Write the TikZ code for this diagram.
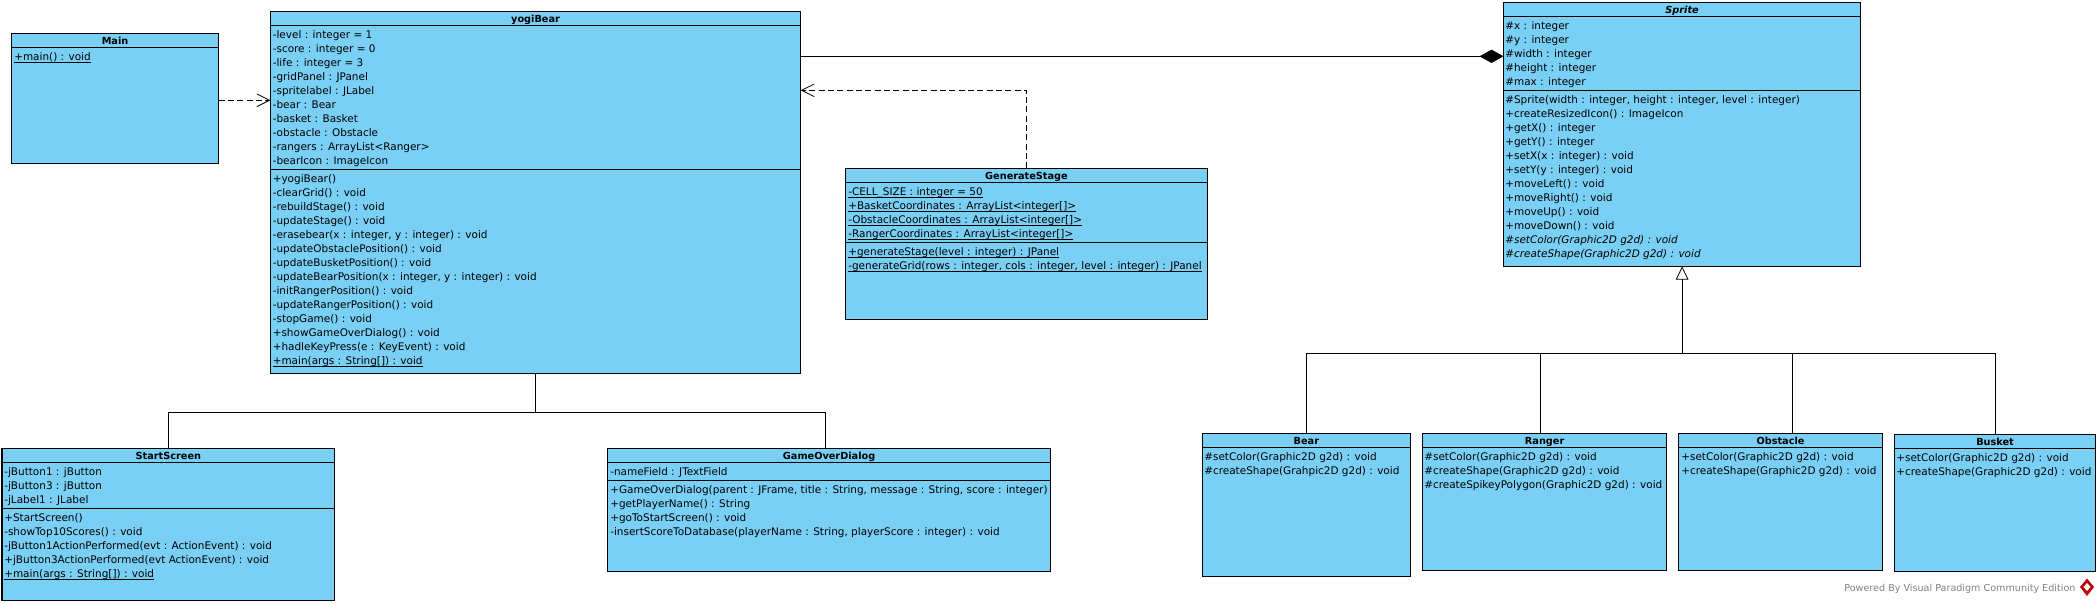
\documentclass[tikz,border=0pt]{standalone}
\usepackage{fontspec}
\setmainfont{DejaVu Sans}
\usetikzlibrary{arrows.meta}

\definecolor{classblue}{RGB}{122,207,245}
\tikzset{
  classbox/.style={draw=black,fill=classblue,line width=0.9pt,anchor=north west,inner sep=0pt,outer sep=0pt},
  rowtext/.style={anchor=base west,inner sep=0pt,font=\fontsize{7.85}{10}\selectfont},
  titletext/.style={anchor=base,inner sep=0pt,font=\fontsize{7.3}{10}\selectfont\bfseries},
  boxline/.style={line width=0.9pt},
  assocline/.style={line width=0.75pt},
  depline/.style={line width=0.8pt,dash pattern=on 4.5pt off 2.5pt,-{Straight Barb[length=9.5pt,width=9.5pt,line width=0.6pt]}},
  genline/.style={line width=0.75pt,-{Triangle[open,fill=white,length=10pt,width=9.5pt,line width=0.6pt]}},
  compline/.style={line width=0.9pt,-{Diamond[length=18pt,width=10pt,fill=black]}},
}
\newcommand{\classnode}[5]{\node [classbox,minimum width={(#4-#2)*0.75pt},minimum height={(#5-#3)*0.75pt}] (#1) at (#2,#3) {};}
\newcommand{\staticrow}[1]{\underline{\smash{#1}}}

\begin{document}
\begin{tikzpicture}[x=0.75pt,y=0.75pt,yscale=-1,xscale=1]
\useasboundingbox (0,0) rectangle (2099,604);

% Class Boxes
\classnode{main}{11.5}{33.3}{218.6}{163.3}
\classnode{yogi}{270.4}{11.3}{800.7}{373.3}
\classnode{stage}{845.8}{168.3}{1207.2}{319.3}
\classnode{sprite}{1503.5}{2.7}{1860.7}{266.3}
\classnode{start}{2}{448.3}{334.7}{600.7}
\classnode{over}{607.7}{448.3}{1050.5}{571.3}
\classnode{bear}{1202.3}{433.3}{1410.4}{576.3}
\classnode{ranger}{1422.7}{433.3}{1666.5}{570.3}
\classnode{obstacle}{1678.8}{433.3}{1882.2}{570.3}
\classnode{busket}{1894.5}{434.7}{2095.6}{571.3}

% Compartment Lines
\draw [boxline] (main.west |- 0,47.3) -- (main.east |- 0,47.3);
\draw [boxline] (yogi.west |- 0,25.3) -- (yogi.east |- 0,25.3);
\draw [boxline] (yogi.west |- 0,169.3) -- (yogi.east |- 0,169.3);
\draw [boxline] (stage.west |- 0,182.3) -- (stage.east |- 0,182.3);
\draw [boxline] (stage.west |- 0,242.3) -- (stage.east |- 0,242.3);
\draw [boxline] (sprite.west |- 0,16.3) -- (sprite.east |- 0,16.3);
\draw [boxline] (sprite.west |- 0,90.3) -- (sprite.east |- 0,90.3);
\draw [boxline] (start.west |- 0,462.3) -- (start.east |- 0,462.3);
\draw [boxline] (start.west |- 0,508.3) -- (start.east |- 0,508.3);
\draw [boxline] (over.west |- 0,462.3) -- (over.east |- 0,462.3);
\draw [boxline] (over.west |- 0,480.3) -- (over.east |- 0,480.3);
\draw [boxline] (bear.west |- 0,447.3) -- (bear.east |- 0,447.3);
\draw [boxline] (ranger.west |- 0,447.3) -- (ranger.east |- 0,447.3);
\draw [boxline] (obstacle.west |- 0,447.3) -- (obstacle.east |- 0,447.3);
\draw [boxline] (busket.west |- 0,448.3) -- (busket.east |- 0,448.3);

% Connectors
\draw [depline] (main.east |- 0,100.3) -- (yogi.west |- 0,100.3);
\draw [depline] (stage.north) |- (yogi.east |- 0,90.3);
\draw [compline] (yogi.east |- 0,56.3) -- (sprite.west |- 0,56.3);
\coordinate (yogiBus) at (yogi.south |- 0,412.3);
\draw [assocline] (yogi.south) -- (yogiBus);
\draw [assocline] (start.north) |- (yogiBus);
\draw [assocline] (over.north -| 825.3,0) |- (yogiBus);
\coordinate (spriteBus) at (sprite.south |- 0,353.3);
\draw [genline] (spriteBus) -- (sprite.south);
\draw [assocline] (bear.north) |- (spriteBus);
\draw [assocline] (ranger.north -| 1540.5,0) |- (spriteBus);
\draw [assocline] (obstacle.north -| 1792.5,0) |- (spriteBus);
\draw [assocline] (busket.north) |- (spriteBus);

% Main
\draw (main.north |- 0,44.3) node [titletext] (mainT) {Main};
\draw (14,60.3) node [rowtext] (mainM1) {\staticrow{+main() : void}};

% yogiBear
\draw (yogi.north |- 0,22.3) node [titletext] (yogiT) {yogiBear};
\draw (272.5,38.3) node [rowtext] (yogiA1) {-level : integer = 1};
\draw (272.5,52.3) node [rowtext] (yogiA2) {-score : integer = 0};
\draw (272.5,66.3) node [rowtext] (yogiA3) {-life : integer = 3};
\draw (272.5,80.3) node [rowtext] (yogiA4) {-gridPanel : JPanel};
\draw (272.5,94.3) node [rowtext] (yogiA5) {-spritelabel : JLabel};
\draw (272.5,108.3) node [rowtext] (yogiA6) {-bear : Bear};
\draw (272.5,122.3) node [rowtext] (yogiA7) {-basket : Basket};
\draw (272.5,136.3) node [rowtext] (yogiA8) {-obstacle : Obstacle};
\draw (272.5,150.3) node [rowtext] (yogiA9) {-rangers : ArrayList<Ranger>};
\draw (272.5,164.3) node [rowtext] (yogiA10) {-bearIcon : ImageIcon};
\draw (272.5,182.3) node [rowtext] (yogiM1) {+yogiBear()};
\draw (272.5,196.3) node [rowtext] (yogiM2) {-clearGrid() : void};
\draw (272.5,210.3) node [rowtext] (yogiM3) {-rebuildStage() : void};
\draw (272.5,224.3) node [rowtext] (yogiM4) {-updateStage() : void};
\draw (272.5,238.3) node [rowtext] (yogiM5) {-erasebear(x : integer, y : integer) : void};
\draw (272.5,252.3) node [rowtext] (yogiM6) {-updateObstaclePosition() : void};
\draw (272.5,266.3) node [rowtext] (yogiM7) {-updateBusketPosition() : void};
\draw (272.5,280.3) node [rowtext] (yogiM8) {-updateBearPosition(x : integer, y : integer) : void};
\draw (272.5,294.3) node [rowtext] (yogiM9) {-initRangerPosition() : void};
\draw (272.5,308.3) node [rowtext] (yogiM10) {-updateRangerPosition() : void};
\draw (272.5,322.3) node [rowtext] (yogiM11) {-stopGame() : void};
\draw (272.5,336.3) node [rowtext] (yogiM12) {+showGameOverDialog() : void};
\draw (272.5,350.3) node [rowtext] (yogiM13) {+hadleKeyPress(e : KeyEvent) : void};
\draw (272.5,364.3) node [rowtext] (yogiM14) {\staticrow{+main(args : String[]) : void}};

% GenerateStage
\draw (stage.north |- 0,179.3) node [titletext] (stageT) {GenerateStage};
\draw (848,195.3) node [rowtext] (stageA1) {\staticrow{-CELL\_SIZE : integer = 50}};
\draw (848,209.3) node [rowtext] (stageA2) {\staticrow{+BasketCoordinates : ArrayList<integer[]>}};
\draw (848,223.3) node [rowtext] (stageA3) {\staticrow{-ObstacleCoordinates : ArrayList<integer[]>}};
\draw (848,237.3) node [rowtext] (stageA4) {\staticrow{-RangerCoordinates : ArrayList<integer[]>}};
\draw (848,255.3) node [rowtext] (stageM1) {\staticrow{+generateStage(level : integer) : JPanel}};
\draw (848,269.3) node [rowtext] (stageM2) {\staticrow{-generateGrid(rows : integer, cols : integer, level : integer) : JPanel}};

% Sprite
\draw (sprite.north |- 0,13.3) node [titletext] (spriteT) {\itshape Sprite};
\draw (1505,29.3) node [rowtext] (spriteA1) {\#x : integer};
\draw (1505,43.3) node [rowtext] (spriteA2) {\#y : integer};
\draw (1505,57.3) node [rowtext] (spriteA3) {\#width : integer};
\draw (1505,71.3) node [rowtext] (spriteA4) {\#height : integer};
\draw (1505,85.3) node [rowtext] (spriteA5) {\#max : integer};
\draw (1505,103.3) node [rowtext] (spriteM1) {\#Sprite(width : integer, height : integer, level : integer)};
\draw (1505,117.3) node [rowtext] (spriteM2) {+createResizedIcon() : ImageIcon};
\draw (1505,131.3) node [rowtext] (spriteM3) {+getX() : integer};
\draw (1505,145.3) node [rowtext] (spriteM4) {+getY() : integer};
\draw (1505,159.3) node [rowtext] (spriteM5) {+setX(x : integer) : void};
\draw (1505,173.3) node [rowtext] (spriteM6) {+setY(y : integer) : void};
\draw (1505,187.3) node [rowtext] (spriteM7) {+moveLeft() : void};
\draw (1505,201.3) node [rowtext] (spriteM8) {+moveRight() : void};
\draw (1505,215.3) node [rowtext] (spriteM9) {+moveUp() : void};
\draw (1505,229.3) node [rowtext] (spriteM10) {+moveDown() : void};
\draw (1505,243.3) node [rowtext] (spriteM11) {\itshape \#setColor(Graphic2D g2d) : void};
\draw (1505,257.3) node [rowtext] (spriteM12) {\itshape \#createShape(Graphic2D g2d) : void};

% StartScreen
\draw (start.north |- 0,459.3) node [titletext] (startT) {StartScreen};
\draw (4,475.3) node [rowtext] (startA1) {-jButton1 : jButton};
\draw (4,489.3) node [rowtext] (startA2) {-jButton3 : jButton};
\draw (4,503.3) node [rowtext] (startA3) {-jLabel1 : JLabel};
\draw (4,521.3) node [rowtext] (startM1) {+StartScreen()};
\draw (4,535.3) node [rowtext] (startM2) {-showTop10Scores() : void};
\draw (4,549.3) node [rowtext] (startM3) {-jButton1ActionPerformed(evt : ActionEvent) : void};
\draw (4,563.3) node [rowtext] (startM4) {+jButton3ActionPerformed(evt ActionEvent) : void};
\draw (4,577.3) node [rowtext] (startM5) {\staticrow{+main(args : String[]) : void}};

% GameOverDialog
\draw (over.north |- 0,459.3) node [titletext] (overT) {GameOverDialog};
\draw (610,475.3) node [rowtext] (overA1) {-nameField : JTextField};
\draw (610,493.3) node [rowtext] (overM1) {+GameOverDialog(parent : JFrame, title : String, message : String, score : integer)};
\draw (610,507.3) node [rowtext] (overM2) {+getPlayerName() : String};
\draw (610,521.3) node [rowtext] (overM3) {+goToStartScreen() : void};
\draw (610,535.3) node [rowtext] (overM4) {-insertScoreToDatabase(playerName : String, playerScore : integer) : void};

% Bear
\draw (bear.north |- 0,444.3) node [titletext] (bearT) {Bear};
\draw (1204,460.3) node [rowtext] (bearM1) {\#setColor(Graphic2D g2d) : void};
\draw (1204,474.3) node [rowtext] (bearM2) {\#createShape(Grahpic2D g2d) : void};

% Ranger
\draw (ranger.north |- 0,444.3) node [titletext] (rangerT) {Ranger};
\draw (1424,460.3) node [rowtext] (rangerM1) {\#setColor(Graphic2D g2d) : void};
\draw (1424,474.3) node [rowtext] (rangerM2) {\#createShape(Graphic2D g2d) : void};
\draw (1424,488.3) node [rowtext] (rangerM3) {\#createSpikeyPolygon(Graphic2D g2d) : void};

% Obstacle
\draw (obstacle.north |- 0,444.3) node [titletext] (obstacleT) {Obstacle};
\draw (1681,460.3) node [rowtext] (obstacleM1) {+setColor(Graphic2D g2d) : void};
\draw (1681,474.3) node [rowtext] (obstacleM2) {+createShape(Graphic2D g2d) : void};

% Busket
\draw (busket.north |- 0,445.3) node [titletext] (busketT) {Busket};
\draw (1896,461.3) node [rowtext] (busketM1) {+setColor(Graphic2D g2d) : void};
\draw (1896,475.3) node [rowtext] (busketM2) {+createShape(Graphic2D g2d) : void};

% Watermark
\draw (2075.7,591) node [anchor=base east,inner sep=0pt,text=gray,font=\fontsize{7.2}{9}\selectfont] (powered) {Powered By Visual Paradigm Community Edition};
\fill [red!75!black] (2087,578.5) -- (2094,587) -- (2087,596) -- (2080,587) -- cycle;
\fill [white] (2087,583) -- (2090.5,587) -- (2087,591) -- (2083.5,587) -- cycle;

\end{tikzpicture}
\end{document}
